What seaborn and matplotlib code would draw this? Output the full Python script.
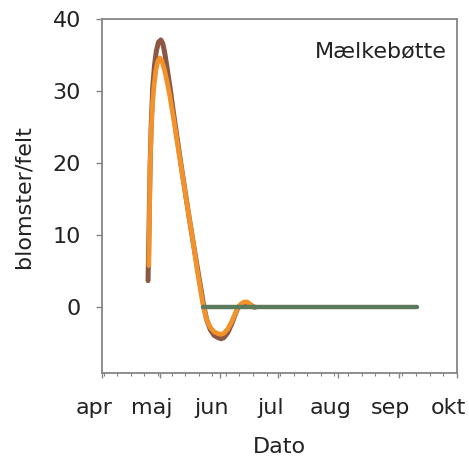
import numpy as np
import pandas as pd
import matplotlib
matplotlib.use("Agg")
import matplotlib.pyplot as plt
import matplotlib.transforms as mtransforms
import seaborn as sns

# days counted from 1 April
month_names = ["apr", "maj", "jun", "jul", "aug", "sep", "okt"]
month_days = [0, 30, 61, 91, 122, 153, 183]

# brown curve
brown_day = [23.9, 24.2, 24.6, 25.0, 25.5, 26.3, 27.2, 28.2, 29.3, 30.5, 31.5,
             32.5, 33.5, 34.5, 35.5, 37.0, 39.0, 41.0, 43.0, 45.0, 47.0, 49.0,
             51.0, 52.5, 54.0, 56.0, 58.0, 60.0, 61.5, 63.0, 65.0, 67.0, 69.0,
             70.3, 72.0, 73.5, 75.0, 76.5, 78.0, 79.0]
brown_val = [3.7, 8.0, 14.0, 20.0, 25.0, 30.5, 33.5, 35.6, 36.8, 37.1, 36.6,
             35.3, 33.6, 31.8, 30.0, 27.0, 23.3, 19.6, 16.1, 12.6, 9.3, 6.0,
             2.8, 0.4, -1.6, -3.1, -3.9, -4.2, -4.35, -4.2, -3.5, -2.3, -0.9,
             0.0, 0.4, 0.6, 0.6, 0.35, 0.1, 0.0]

# orange curve
orange_day = [24.3, 24.6, 24.9, 25.5, 26.2, 27.0, 28.0, 29.0, 30.0, 31.0, 32.0,
              33.0, 34.0, 35.0, 37.0, 39.0, 41.0, 43.0, 45.0, 47.0, 49.0, 51.0,
              52.5, 54.0, 56.0, 58.0, 60.0, 61.5, 63.0, 65.0, 67.0, 69.0, 70.3,
              72.0, 73.5, 75.0, 76.5, 78.0, 79.0]
orange_val = [5.8, 12.0, 19.0, 24.5, 28.2, 30.8, 33.0, 34.2, 34.6, 34.2, 33.3,
              32.2, 30.9, 29.5, 26.3, 22.8, 19.4, 16.0, 12.6, 9.3, 5.6, 2.3,
              0.0, -1.6, -2.8, -3.4, -3.65, -3.75, -3.6, -3.0, -2.0, -0.8, 0.0,
              0.5, 0.75, 0.75, 0.45, 0.1, 0.0]

# green flat line
green_day = [52.3, 162.4]
green_val = [0.0, 0.0]

sns.set_style("white")
plt.rcParams["font.family"] = ["DejaVu Sans"]

fig = plt.figure(figsize=(4.69, 4.65), dpi=100)
ax = fig.add_axes([0.2168, 0.1972, 0.757, 0.7619])

sns.lineplot(x=brown_day, y=brown_val, color="#8b5843", lw=3.6, ax=ax,
             solid_capstyle="round")
sns.lineplot(x=orange_day, y=orange_val, color="#f3922b", lw=3.4, ax=ax,
             solid_capstyle="round")
sns.lineplot(x=green_day, y=green_val, color="#5b7b5c", lw=3.2, ax=ax,
             solid_capstyle="round")

ax.set_xlim(0, 183)
ax.set_ylim(-9.15, 40)

ax.set_yticks([0, 10, 20, 30, 40])
ax.set_xticks(month_days)
ax.set_xticklabels(month_names)
ax.set_xticks(np.arange(1, 183, 7), minor=True)

fs = 16
ax.tick_params(axis="y", which="major", left=True, length=4.5, width=1,
               color="#868686", labelsize=fs, pad=10.5, labelcolor="#222222")
ax.tick_params(axis="x", which="major", bottom=True, length=3.6, width=1,
               color="#868686", labelsize=fs, pad=14, labelcolor="#222222")
ax.tick_params(axis="x", which="minor", bottom=True, length=2.2, width=0.8,
               color="#868686")

# month labels sit a little left of their tick
shift = mtransforms.ScaledTranslation(-8 / 100, 0, fig.dpi_scale_trans)
for lab in ax.get_xticklabels():
    lab.set_transform(lab.get_transform() + shift)

for sp in ax.spines.values():
    sp.set_color("#868686")
    sp.set_linewidth(1.3)

ax.set_xlabel("Dato", fontsize=fs, labelpad=14, color="#222222")
ax.set_ylabel("blomster/felt", fontsize=fs, labelpad=14, color="#222222")

ax.text(0.973, 0.91, "Mælkebøtte", transform=ax.transAxes, ha="right",
        va="center", fontsize=fs, color="#222222")

fig.savefig("out.png", dpi=100)
